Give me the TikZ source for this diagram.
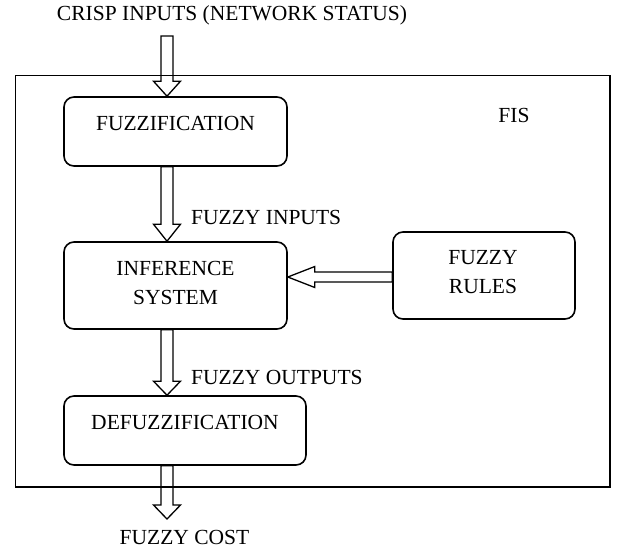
\documentclass[tikz,border=0pt]{standalone}
\usepackage{fontspec}
\setmainfont{Liberation Serif}
\usetikzlibrary{calc}
\tikzset{
  boxnode/.style={draw, line width=1.6pt, rounded corners=10pt, inner sep=0pt},
  framebox/.style={draw, line width=1.6pt, inner sep=0pt},
  lbl/.style={inner sep=0pt, font=\fontsize{21.5}{29}\selectfont},
  arrowline/.style={draw, line width=1.3pt, line join=miter},
}
% #1 shaft half width, #2 head half width, #3 head length, #4 start, #5 tip
\newcommand{\blkarrow}[5]{%
  \coordinate (blkB) at ($(#5)!#3!(#4)$);
  \draw[arrowline] ($(#4)!#1!90:(#5)$) -- ($(blkB)!#1!90:(#5)$) -- ($(blkB)!#2!90:(#5)$) -- (#5)
    -- ($(blkB)!#2!-90:(#5)$) -- ($(blkB)!#1!-90:(#5)$) -- ($(#4)!#1!-90:(#5)$) -- cycle;}
\begin{document}
\begin{tikzpicture}[x=1pt,y=-1pt]
\useasboundingbox (0,0) rectangle (620,550);
% frame
\node[framebox, minimum width=594.5pt, minimum height=411.5pt] (fis) at (312.75,281.25) {};
% boxes
\node[boxnode, minimum width=223pt, minimum height=69pt] (fuzz) at (175.5,131.5) {};
\node[boxnode, minimum width=223pt, minimum height=87pt] (inf) at (175.5,285.5) {};
\node[boxnode, minimum width=182pt, minimum height=87pt] (rules) at (484,275.5) {};
\node[boxnode, minimum width=242pt, minimum height=69pt] (defuzz) at (185,430.5) {};
% texts
\node[lbl, anchor=base] (crisp) at (232,20) {CRISP INPUTS (NETWORK STATUS)};
\node[lbl, anchor=base] (fistxt) at (514,122) {FIS};
\node[lbl, anchor=base west] (fin) at (191,224) {FUZZY INPUTS};
\node[lbl, anchor=base west] (fout) at (191,384) {FUZZY OUTPUTS};
\node[lbl, anchor=base] (cost) at (184.5,544) {FUZZY COST};
\node[lbl, anchor=base] (fuzzt) at (175.5,130) {FUZZIFICATION};
\node[lbl, align=center] (inft) at (175.5,282.5) {INFERENCE\\SYSTEM};
\node[lbl, align=center] (rulest) at (483,272.5) {FUZZY\\RULES};
\node[lbl, anchor=base] (defuzzt) at (185,429) {DEFUZZIFICATION};
% arrow helper coordinates
\coordinate (acol) at (167,0);
\coordinate (crispend) at (167,36);
\coordinate (costend) at (167,519);
\coordinate (hrow) at (0,277);
% arrows
\blkarrow{6pt}{13.5pt}{15pt}{crispend}{fuzz.north -| acol}
\blkarrow{6pt}{13.5pt}{17pt}{fuzz.south -| acol}{inf.north -| acol}
\blkarrow{6pt}{13.5pt}{14pt}{inf.south -| acol}{defuzz.north -| acol}
\blkarrow{6pt}{13.5pt}{14pt}{defuzz.south -| acol}{costend}
\blkarrow{5pt}{10.5pt}{27pt}{rules.west |- hrow}{inf.east |- hrow}
\end{tikzpicture}
\end{document}
